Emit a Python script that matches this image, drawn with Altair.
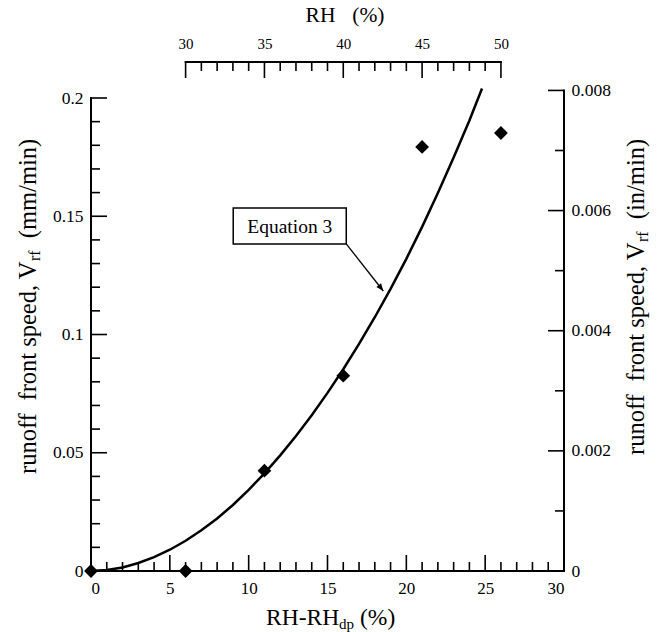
import altair as alt
import pandas as pd

# ---------------- data ----------------
rh_diff = [0, 6, 11, 16, 21, 26]
v_rf = [0.0, 0.0, 0.0424, 0.0826, 0.1793, 0.1852]

curve_x = [0, 1, 2, 3, 4, 5, 6, 7, 8, 9, 10, 11, 12, 13, 14, 15, 16, 17, 18, 19,
           20, 21, 22, 23, 24, 24.8]
curve_y = [0.0, 0.0004, 0.0015, 0.0034, 0.0059, 0.0090, 0.0128, 0.0172, 0.0222,
           0.0279, 0.0343, 0.0413, 0.0489, 0.0571, 0.0659, 0.0753, 0.0853, 0.0960,
           0.1073, 0.1193, 0.1320, 0.1455, 0.1598, 0.1748, 0.1905, 0.2040]

bottom_labels = [0, 5, 10, 15, 20, 25, 30]
bottom_major = [5, 10, 15, 20, 25]
bottom_minor = [1, 2, 3, 4, 6, 7, 8, 9, 11, 12, 13, 14, 16, 17, 18, 19, 21, 22, 23, 24,
                26, 27, 28, 29]
left_labels = [0, 0.05, 0.1, 0.15, 0.2]
left_major = [0.05, 0.1, 0.15, 0.2]
left_minor = [0.01, 0.02, 0.03, 0.04, 0.06, 0.07, 0.08, 0.09, 0.11, 0.12, 0.13, 0.14,
              0.16, 0.17, 0.18, 0.19]
top_labels = [30, 35, 40, 45, 50]
top_minor = [31, 32, 33, 34, 36, 37, 38, 39, 41, 42, 43, 44, 46, 47, 48, 49]
right_labels = [0, 0.002, 0.004, 0.006, 0.008]
right_major = [0.002, 0.004, 0.006, 0.008]
right_minor = [0.001, 0.003, 0.005, 0.007]

# annotation (data coordinates)
box_x = [9.02, 16.19]
box_y = [0.1383, 0.1535]
arrow_x = [16.19, 18.54]
arrow_y = [0.1383, 0.1184]
note_text = "Equation 3"

FONT = "'Liberation Serif', 'Times New Roman', Times, serif"
W, H = 473, 509
Y_TOP = 0.2 * 509 / 473          # mm/min at the top of the plot area
RH_OFFSET = 24                     # RH = (RH - RHdp) + 24 on top axis
MAJ, MIN = 16, 9

sx = alt.Scale(domain=[0, 30], nice=False, zero=False)
sy = alt.Scale(domain=[0, Y_TOP], nice=False, zero=False)
sxB = alt.Scale(domain=[RH_OFFSET, 30 + RH_OFFSET], nice=False, zero=False)
syB = alt.Scale(domain=[0, Y_TOP / 25.4], nice=False, zero=False)

axis_common = dict(domain=False, ticks=False, tickSize=0, grid=False, title=None,
                   labelFont=FONT, labelColor="black")
axX = alt.Axis(orient="bottom", values=bottom_labels, labelFontSize=17,
               labelPadding=9, format="~g", **axis_common)
axY = alt.Axis(orient="left", values=left_labels, labelFontSize=17.5,
               labelPadding=8, format="~g", **axis_common)
axTop = alt.Axis(orient="top", values=top_labels, labelFontSize=15,
                 labelPadding=11, format="~g", **axis_common)
axRight = alt.Axis(orient="right", values=right_labels, labelFontSize=17.5,
                   labelPadding=7, format="~g", **axis_common)

rule = dict(color="black", strokeWidth=2, strokeCap="square")
tick = dict(color="black", strokeWidth=1.6)

# ---------------- group A (bottom / left scales) ----------------
bottom_domain = alt.Chart(pd.DataFrame({"a": [0], "b": [30]})).mark_rule(**rule).encode(
    x=alt.X("a:Q", scale=sx, axis=axX), x2="b:Q", y=alt.value(H))
left_domain = alt.Chart(pd.DataFrame({"a": [0], "b": [0.2]})).mark_rule(**rule).encode(
    y=alt.Y("a:Q", scale=sy, axis=axY), y2="b:Q", x=alt.value(0))
b_major = alt.Chart(pd.DataFrame({"v": bottom_major})).mark_rule(**tick).encode(
    x=alt.X("v:Q", scale=sx, axis=axX), y=alt.value(H), y2=alt.value(H - MAJ))
b_minor = alt.Chart(pd.DataFrame({"v": bottom_minor})).mark_rule(**tick).encode(
    x=alt.X("v:Q", scale=sx, axis=axX), y=alt.value(H), y2=alt.value(H - MIN))
l_major = alt.Chart(pd.DataFrame({"v": left_major})).mark_rule(**tick).encode(
    y=alt.Y("v:Q", scale=sy, axis=axY), x=alt.value(0), x2=alt.value(MAJ))
l_minor = alt.Chart(pd.DataFrame({"v": left_minor})).mark_rule(**tick).encode(
    y=alt.Y("v:Q", scale=sy, axis=axY), x=alt.value(0), x2=alt.value(MIN))

curve = alt.Chart(pd.DataFrame({"x": curve_x, "y": curve_y})).mark_line(
    color="black", strokeWidth=2.5).encode(
    x=alt.X("x:Q", scale=sx, axis=axX), y=alt.Y("y:Q", scale=sy, axis=axY))
points = alt.Chart(pd.DataFrame({"x": rh_diff, "y": v_rf})).mark_point(
    shape="diamond", filled=True, size=190, color="black", opacity=1).encode(
    x=alt.X("x:Q", scale=sx, axis=axX), y=alt.Y("y:Q", scale=sy, axis=axY))

box = alt.Chart(pd.DataFrame({"x": [box_x[0]], "x2": [box_x[1]],
                              "y": [box_y[0]], "y2": [box_y[1]]})).mark_rect(
    fill="white", stroke="black", strokeWidth=1.5).encode(
    x=alt.X("x:Q", scale=sx, axis=axX), x2="x2:Q",
    y=alt.Y("y:Q", scale=sy, axis=axY), y2="y2:Q")
note = alt.Chart(pd.DataFrame({"x": [(box_x[0] + box_x[1]) / 2],
                               "y": [(box_y[0] + box_y[1]) / 2],
                               "t": [note_text]})).mark_text(
    font=FONT, fontSize=19.5, color="black", baseline="middle", align="center", dy=1).encode(
    x=alt.X("x:Q", scale=sx, axis=axX), y=alt.Y("y:Q", scale=sy, axis=axY), text="t:N")
arrow = alt.Chart(pd.DataFrame({"x": [arrow_x[0]], "x2": [arrow_x[1]],
                                "y": [arrow_y[0]], "y2": [arrow_y[1]]})).mark_rule(
    color="black", strokeWidth=1.3).encode(
    x=alt.X("x:Q", scale=sx, axis=axX), x2="x2:Q",
    y=alt.Y("y:Q", scale=sy, axis=axY), y2="y2:Q")
head = alt.Chart(pd.DataFrame({"x": [arrow_x[1]], "y": [arrow_y[1]]})).mark_point(
    shape="M0,0L-0.4,1L0.4,1Z", filled=True, color="black", opacity=1,
    size=220, angle=141.8).encode(
    x=alt.X("x:Q", scale=sx, axis=axX), y=alt.Y("y:Q", scale=sy, axis=axY))

def txt(s, px, py, size=22, align="center", angle=0, baseline="middle"):
    return alt.Chart(pd.DataFrame({"t": [s]})).mark_text(
        font=FONT, fontSize=size, color="black", align=align, angle=angle,
        baseline=baseline).encode(text="t:N", x=alt.value(px - 91), y=alt.value(py - 62))

TS = 24.5
SUB = 16
titles = [
    # bottom title: RH-RH_dp (%)
    txt("RH-RH", 266, 618, size=23.5, align="left"),
    txt("dp", 339, 624, size=15, align="left"),
    txt("(%)", 360, 618, size=23.5, align="left"),
    # top title
    txt("RH", 320.5, 16, size=21.5),
    txt("(%)", 368.4, 16, size=21.5),
    # left title (vertical)
    txt("runoff", 29, 474, size=TS, align="left", angle=270),
    txt("front", 29, 400.5, size=TS, align="left", angle=270),
    txt("speed, V", 29, 346.8, size=TS, align="left", angle=270),
    txt("rf", 35, 261, size=SUB, align="left", angle=270),
    txt("(mm/min)", 29, 238.2, size=TS, align="left", angle=270),
    # right title (vertical)
    txt("runoff", 637, 455, size=TS, align="left", angle=270),
    txt("front", 637, 381.5, size=TS, align="left", angle=270),
    txt("speed, V", 637, 327.8, size=TS, align="left", angle=270),
    txt("rf", 643, 242, size=SUB, align="left", angle=270),
    txt("(in/min)", 637, 219.2, size=TS, align="left", angle=270),
]

groupA = alt.layer(bottom_domain, left_domain, b_major, b_minor, l_major, l_minor,
                   curve, arrow, box, note, head, points, *titles)

# ---------------- group B (top / right scales) ----------------
top_domain = alt.Chart(pd.DataFrame({"a": [30], "b": [50]})).mark_rule(**rule).encode(
    x=alt.X("a:Q", scale=sxB, axis=axTop), x2="b:Q", y=alt.value(0))
t_major = alt.Chart(pd.DataFrame({"v": top_labels})).mark_rule(**tick).encode(
    x=alt.X("v:Q", scale=sxB, axis=axTop), y=alt.value(0), y2=alt.value(MAJ))
t_minor = alt.Chart(pd.DataFrame({"v": top_minor})).mark_rule(**tick).encode(
    x=alt.X("v:Q", scale=sxB, axis=axTop), y=alt.value(0), y2=alt.value(MIN))
right_domain = alt.Chart(pd.DataFrame({"a": [0], "b": [0.008]})).mark_rule(**rule).encode(
    y=alt.Y("a:Q", scale=syB, axis=axRight), y2="b:Q", x=alt.value(W))
r_major = alt.Chart(pd.DataFrame({"v": right_major})).mark_rule(**tick).encode(
    y=alt.Y("v:Q", scale=syB, axis=axRight), x=alt.value(W), x2=alt.value(W - MAJ))
r_minor = alt.Chart(pd.DataFrame({"v": right_minor})).mark_rule(**tick).encode(
    y=alt.Y("v:Q", scale=syB, axis=axRight), x=alt.value(W), x2=alt.value(W - MIN))

groupB = alt.layer(top_domain, t_major, t_minor, right_domain, r_major, r_minor)

chart = alt.layer(groupA, groupB).resolve_scale(x="independent", y="independent").properties(
    width=W, height=H,
    autosize=alt.AutoSizeParams(type="none"),
    padding={"left": 91, "top": 62, "right": 657 - 91 - W, "bottom": 632 - 62 - H},
    background="white",
).configure_view(stroke=None)

chart.save("out.html", embed_options={"renderer": "svg", "actions": False})
